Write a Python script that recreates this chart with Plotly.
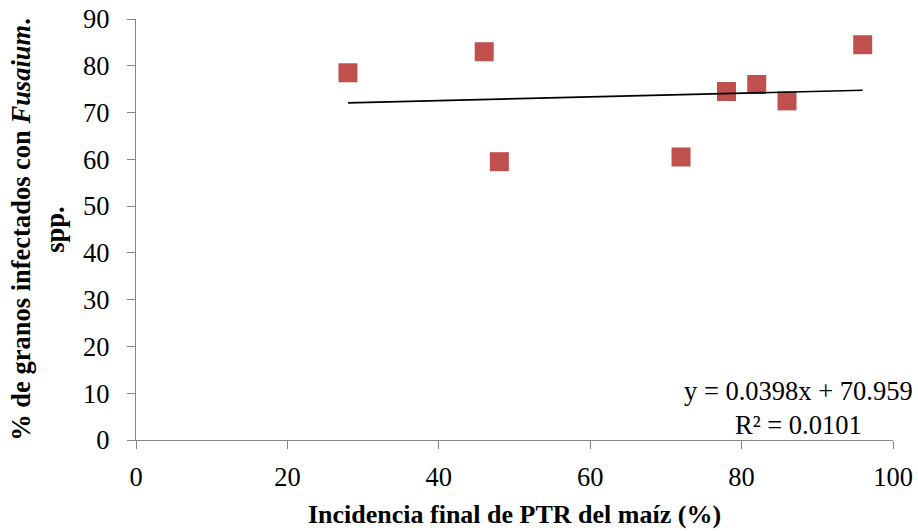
import plotly.graph_objects as go

# Data
x_vals = [28, 46, 48, 72, 78, 82, 86, 96]
y_vals = [78.5, 83, 59.5, 60.5, 74.5, 76, 72.5, 84.5]
slope = 0.0398
intercept = 70.959
r2 = 0.0101
x_ticks = [0, 20, 40, 60, 80, 100]
y_ticks = [0, 10, 20, 30, 40, 50, 60, 70, 80, 90]

x_line = [min(x_vals), max(x_vals)]
y_line = [slope * v + intercept for v in x_line]

FONT = "Liberation Serif, Times New Roman, serif"
AXIS_COLOR = "#868686"

fig = go.Figure()
fig.add_trace(go.Scatter(
    x=x_vals, y=y_vals, mode="markers",
    marker=dict(symbol="square", size=19, color="#C0504D",
                line=dict(width=0)),
    showlegend=False, hoverinfo="x+y"))
fig.add_trace(go.Scatter(
    x=x_line, y=y_line, mode="lines",
    line=dict(color="black", width=1.6),
    showlegend=False, hoverinfo="skip"))

fig.add_annotation(
    x=0.875, y=0.075, xref="paper", yref="paper",
    xanchor="center", yanchor="middle",
    text=f"y = {slope}x + {intercept}<br>R² = {r2}",
    showarrow=False, align="center",
    font=dict(family=FONT, size=26.5, color="black"))

fig.update_layout(
    width=918, height=531,
    margin=dict(l=136, r=25, t=19, b=91),
    paper_bgcolor="white", plot_bgcolor="white",
    font=dict(family=FONT, size=26, color="black"),
    xaxis=dict(
        range=[0, 100], tickvals=x_ticks, showgrid=False, zeroline=False,
        automargin=False,
        showline=True, linecolor=AXIS_COLOR, linewidth=1.3,
        ticks="outside", ticklen=8, tickcolor=AXIS_COLOR, tickwidth=1.3,
        ticklabelstandoff=5,
        tickfont=dict(family=FONT, size=26.5),
        title=dict(text="<b>Incidencia final de PTR del maíz (%)</b>",
                   font=dict(family=FONT, size=26), standoff=13)),
    yaxis=dict(
        range=[0, 90], tickvals=y_ticks, showgrid=False, zeroline=False,
        automargin=False,
        showline=True, linecolor=AXIS_COLOR, linewidth=1.3,
        ticks="outside", ticklen=8, tickcolor=AXIS_COLOR, tickwidth=1.3,
        ticklabelstandoff=12,
        tickfont=dict(family=FONT, size=26.5),
        title=dict(text="<b>% de granos infectados con <i>Fusaium</i>.<br>spp.</b>",
                   font=dict(family=FONT, size=26.5), standoff=10)),
)

fig.write_html("out.html")
